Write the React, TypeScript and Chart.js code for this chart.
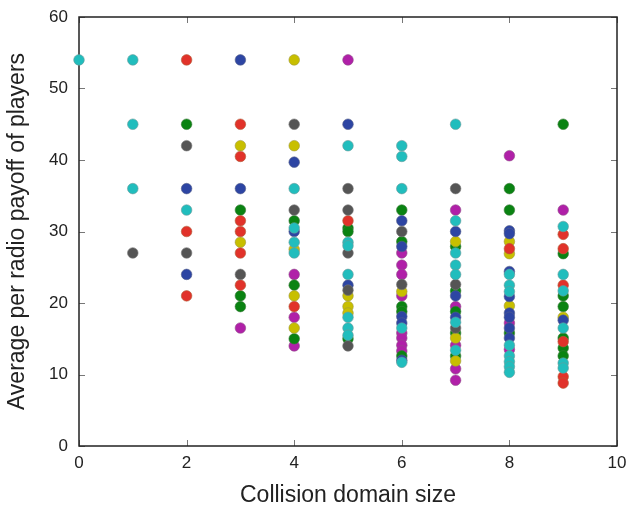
import React, { useEffect, useRef } from "react";
import { Chart, registerables } from "chart.js";

Chart.register(...registerables);

type P = [number, number];

const xTicks = [0, 2, 4, 6, 8, 10];
const yTicks = [0, 10, 20, 30, 40, 50, 60];

const cyanPts: P[] = [
  [0, 54], [1, 54], [1, 45], [1, 36], [2, 33],
  [4, 36], [4, 30.5], [4, 28.5], [4, 27],
  [5, 42], [5, 28.5], [5, 28], [5, 24], [5, 18], [5, 16.5], [5, 15.5],
  [6, 42], [6, 40.5], [6, 36], [6, 16.5], [6, 11.7],
  [7, 45], [7, 31.5], [7, 27], [7, 25.3], [7, 24], [7, 17.3], [7, 13.4],
  [8, 24], [8, 22.5], [8, 21.6], [8, 14.1], [8, 12.6], [8, 11.8], [8, 11.1], [8, 10.3],
  [9, 30.7], [9, 24], [9, 21.7], [9, 16.5], [9, 11.6], [9, 10.9],
];
const greyPts: P[] = [
  [1, 27], [2, 42], [2, 27], [3, 24], [4, 45], [4, 33],
  [5, 36], [5, 33], [5, 27], [5, 21.8], [5, 14],
  [6, 30], [6, 22.6], [7, 36], [7, 22.6], [7, 16.5],
];
const redPts: P[] = [
  [2, 54], [2, 30], [2, 21],
  [3, 45], [3, 40.5], [3, 31.5], [3, 30], [3, 27], [3, 22.5],
  [4, 19.5], [5, 31.5], [8, 27.6],
  [9, 29.6], [9, 27.6], [9, 22.5], [9, 14.6], [9, 9.7], [9, 8.8],
];
const bluePts: P[] = [
  [2, 36], [2, 24], [3, 54], [3, 36], [4, 39.7], [4, 30], [5, 45], [5, 22.5],
  [6, 31.5], [6, 27.9], [6, 18.1], [6, 17.2], [6, 12],
  [7, 30], [7, 21], [7, 18],
  [8, 30.1], [8, 29.7], [8, 24.4], [8, 20.9], [8, 18.6], [8, 18], [8, 16.5], [8, 15.1],
  [9, 17.6],
];
const olivePts: P[] = [
  [3, 42], [3, 28.5], [4, 54], [4, 42], [4, 27.5], [4, 21], [4, 16.5],
  [5, 21], [5, 19.5], [5, 18.6], [6, 21.6],
  [7, 28.6], [7, 15.1], [7, 11.9], [8, 28.6], [8, 26.9], [8, 19.6], [9, 18],
];
const greenPts: P[] = [
  [2, 45], [3, 33], [3, 21], [3, 19.5], [4, 31.5], [4, 22.5], [4, 15],
  [5, 30.5], [5, 30], [5, 15],
  [6, 33], [6, 28.6], [6, 19.5], [6, 18.8], [6, 12.6],
  [7, 27.9], [7, 21.7], [7, 18.8], [7, 15.8], [7, 12.6],
  [8, 36], [8, 33], [8, 15.8],
  [9, 45], [9, 26.9], [9, 21], [9, 19.5], [9, 15.1], [9, 13.7], [9, 12.6],
];
const magentaPts: P[] = [
  [3, 16.5], [4, 24], [4, 18], [4, 14], [5, 54],
  [6, 27], [6, 25.3], [6, 24], [6, 21], [6, 15.8], [6, 15.1], [6, 14.1], [6, 13.3],
  [7, 33], [7, 19.5], [7, 14.1], [7, 10.8], [7, 9.2],
  [8, 40.6], [8, 17.2], [8, 13.5], [9, 33],
];

const series: { name: string; color: string; edge: string; pts: P[] }[] = [
  { name: "cyan", color: "#21bdbd", edge: "#6a9a9a", pts: cyanPts },
  { name: "grey", color: "#555555", edge: "#777777", pts: greyPts },
  { name: "red", color: "#e1322a", edge: "#b0603a", pts: redPts },
  { name: "blue", color: "#2d45a3", edge: "#55608a", pts: bluePts },
  { name: "olive", color: "#c8bf00", edge: "#a09a40", pts: olivePts },
  { name: "green", color: "#0a8312", edge: "#3a7a3a", pts: greenPts },
  { name: "magenta", color: "#b020a8", edge: "#90508a", pts: magentaPts },
];

const framePlugin = {
  id: "frame",
  beforeDatasetsDraw(chart: any) {
    const { ctx, chartArea: a, scales } = chart;
    const xs = scales.x;
    const ys = scales.y;
    ctx.save();
    ctx.strokeStyle = "#777777";
    ctx.lineWidth = 1;
    const tl = 6;
    xTicks.forEach((v) => {
      const px = Math.round(xs.getPixelForValue(v)) + 0.5;
      ctx.beginPath();
      ctx.moveTo(px, a.bottom);
      ctx.lineTo(px, a.bottom - tl);
      ctx.moveTo(px, a.top);
      ctx.lineTo(px, a.top + tl);
      ctx.stroke();
    });
    yTicks.forEach((v) => {
      const py = Math.round(ys.getPixelForValue(v)) + 0.5;
      ctx.beginPath();
      ctx.moveTo(a.left, py);
      ctx.lineTo(a.left + tl, py);
      ctx.moveTo(a.right, py);
      ctx.lineTo(a.right - tl, py);
      ctx.stroke();
    });
    ctx.strokeStyle = "#222222";
    ctx.lineWidth = 1.5;
    ctx.strokeRect(a.left, a.top, a.right - a.left, a.bottom - a.top);
    ctx.restore();
  },
};

export default function App() {
  const ref = useRef<HTMLCanvasElement | null>(null);
  useEffect(() => {
    if (!ref.current) return;
    const chart = new Chart(ref.current, {
      type: "scatter",
      data: {
        datasets: series.map((s) => ({
          label: s.name,
          data: s.pts.map(([x, y]) => ({ x, y })),
          backgroundColor: s.color,
          borderColor: s.edge,
          borderWidth: 0.6,
          pointRadius: 5.3,
          clip: false as any,
        })),
      },
      options: {
        animation: false,
        responsive: false,
        maintainAspectRatio: false,
        layout: { padding: { left: 0, top: 17, right: 9, bottom: 0 } },
        plugins: { legend: { display: false }, tooltip: { enabled: false } },
        scales: {
          x: {
            type: "linear",
            min: 0,
            max: 10,
            afterBuildTicks: (s: any) => {
              s.ticks = xTicks.map((v) => ({ value: v }));
            },
            afterFit: (s: any) => {
              s.height = 63;
              s.paddingLeft = 0;
              s.paddingRight = 0;
            },
            grid: { display: false, drawTicks: false },
            border: { display: false },
            ticks: {
              padding: 7,
              color: "#222222",
              font: { family: "Liberation Sans", size: 17 },
              maxRotation: 0,
            },
            title: {
              display: true,
              text: "Collision domain size",
              color: "#222222",
              font: { family: "Liberation Sans", size: 23 },
              padding: { top: 0, bottom: 0 },
            },
          },
          y: {
            type: "linear",
            min: 0,
            max: 60,
            afterBuildTicks: (s: any) => {
              s.ticks = yTicks.map((v) => ({ value: v }));
            },
            afterFit: (s: any) => {
              s.width = 79;
              s.paddingTop = 0;
              s.paddingBottom = 0;
            },
            grid: { display: false, drawTicks: false },
            border: { display: false },
            ticks: {
              padding: 11,
              color: "#222222",
              font: { family: "Liberation Sans", size: 17 },
            },
            title: {
              display: true,
              text: "Average per radio payoff of players",
              color: "#222222",
              font: { family: "Liberation Sans", size: 23 },
              padding: { top: 4, bottom: 0 },
            },
          },
        },
      },
      plugins: [framePlugin],
    });
    return () => chart.destroy();
  }, []);
  return (
    <div style={{ position: "fixed", left: 0, top: 0, width: 626, height: 509, background: "#ffffff" }}>
      <canvas ref={ref} width={626} height={509} style={{ width: 626, height: 509, display: "block" }} />
    </div>
  );
}
